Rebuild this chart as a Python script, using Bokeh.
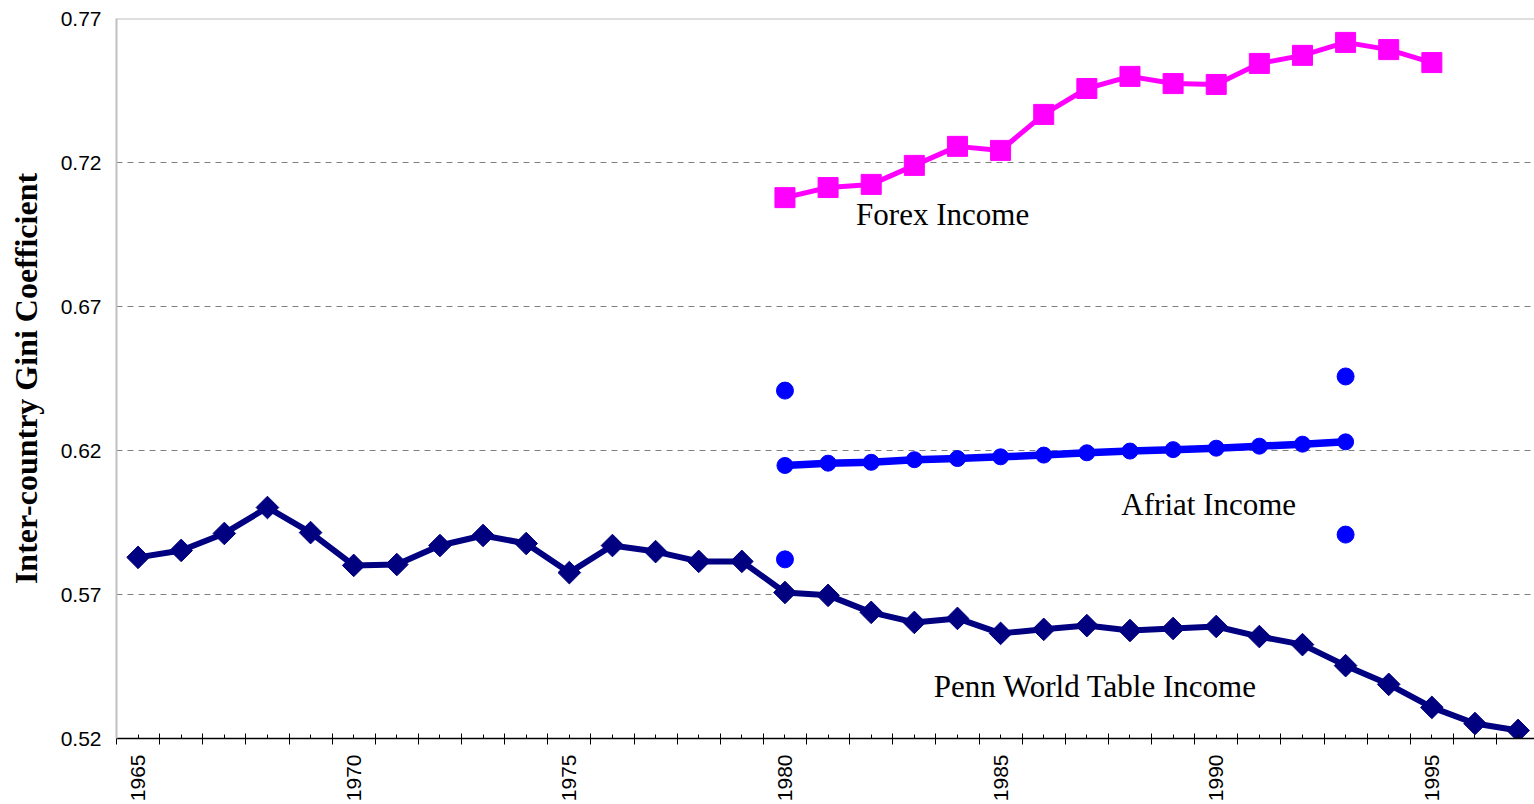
from math import pi
from bokeh.plotting import figure
from bokeh.models import FixedTicker, Span, Range1d, Label, PrintfTickFormatter
from bokeh.embed import file_html
from bokeh.resources import INLINE

# ---------------- data ----------------
years_penn = list(range(1965, 1998))
penn = [0.5829, 0.5853, 0.5912, 0.6002, 0.5915, 0.5801, 0.5804, 0.5870, 0.5905,
        0.5877, 0.5776, 0.5870, 0.5849, 0.5815, 0.5815, 0.5707, 0.5697, 0.5638,
        0.5603, 0.5617, 0.5565, 0.5579, 0.5592, 0.5575, 0.5582, 0.5589, 0.5554,
        0.5526, 0.5453, 0.5388, 0.5308, 0.5252, 0.5228]

years_forex = list(range(1980, 1996))
forex = [0.7078, 0.7113, 0.7124, 0.7190, 0.7256, 0.7242, 0.7367, 0.7457, 0.7499,
         0.7474, 0.7471, 0.7544, 0.7572, 0.7617, 0.7592, 0.7547]

years_afriat = list(range(1980, 1994))
afriat = [0.6148, 0.6156, 0.6159, 0.6168, 0.6172, 0.6178, 0.6184, 0.6192, 0.6198,
          0.6203, 0.6208, 0.6215, 0.6222, 0.6230]

afriat_bound_years = [1980, 1980, 1993, 1993]
afriat_bounds = [0.6408, 0.5822, 0.6457, 0.5908]

y_ticks = [0.52, 0.57, 0.62, 0.67, 0.72, 0.77]
grid_ticks = [0.57, 0.62, 0.67, 0.72]
x_label_years = [1965, 1970, 1975, 1980, 1985, 1990, 1995]

series_labels = ["Forex Income", "Afriat Income", "Penn World Table Income"]

# ---------------- figure ----------------
p = figure(width=1534, height=804,
           x_range=Range1d(1964.5, 1997.38), y_range=Range1d(0.52, 0.77),
           output_backend="svg", toolbar_location=None,
           min_border_left=116, min_border_right=0,
           min_border_top=18, min_border_bottom=66)
p.outline_line_color = None
p.background_fill_color = "white"
p.border_fill_color = "white"

p.xgrid.visible = False
p.ygrid.ticker = FixedTicker(ticks=grid_ticks)
p.ygrid.grid_line_color = "#808080"
p.ygrid.grid_line_dash = "6 5"
p.ygrid.grid_line_width = 1

# y axis
ya = p.yaxis[0]
ya.ticker = FixedTicker(ticks=y_ticks)
ya.formatter = PrintfTickFormatter(format="%.2f")
ya.axis_line_color = "#c0c0c0"
ya.axis_line_width = 2
ya.major_tick_line_color = None
ya.minor_tick_line_color = None
ya.major_tick_in = 0
ya.major_tick_out = 0
ya.major_label_standoff = 15
ya.major_label_text_font = "Liberation Sans"
ya.major_label_text_font_size = "21px"
ya.major_label_text_color = "black"
ya.axis_label = "Inter-country Gini Coefficient"
ya.axis_label_text_font = "Liberation Serif"
ya.axis_label_text_font_style = "bold"
ya.axis_label_text_font_size = "32px"
ya.axis_label_text_color = "black"
ya.axis_label_standoff = 14

# x axis
xa = p.xaxis[0]
xa.ticker = FixedTicker(ticks=years_penn,
                        minor_ticks=[y - 0.5 for y in years_penn] + [years_penn[-1] + 0.5])
xa.major_label_overrides = {y: (str(y) if y in x_label_years else "") for y in years_penn}
xa.major_label_orientation = pi / 2
xa.axis_line_color = "black"
xa.axis_line_width = 1.5
xa.major_tick_line_color = "black"
xa.minor_tick_line_color = "black"
xa.major_tick_in = 4
xa.major_tick_out = 0
xa.minor_tick_in = 5
xa.minor_tick_out = 6
xa.major_label_standoff = 10
xa.major_label_text_font = "Liberation Sans"
xa.major_label_text_font_size = "21px"
xa.major_label_text_color = "black"

p.add_layout(Span(location=0.77, dimension="width", line_color="#c0c0c0", line_width=2))

# ---------------- series ----------------
navy = "#000080"
magenta = "#FF00FF"
blue = "#0000FF"

p.line(years_penn, penn, line_color=navy, line_width=6)
p.scatter(years_penn, penn, marker="square", angle=pi / 4, size=16,
          fill_color=navy, line_color=navy)

p.line(years_forex, forex, line_color=magenta, line_width=5)
p.scatter(years_forex, forex, marker="square", size=20,
          fill_color=magenta, line_color=magenta)

p.line(years_afriat, afriat, line_color=blue, line_width=7.5)
p.scatter(years_afriat, afriat, marker="circle", size=16,
          fill_color=blue, line_color=blue)

p.scatter(afriat_bound_years, afriat_bounds, marker="circle", size=17,
          fill_color=blue, line_color=blue)

# ---------------- labels ----------------
label_pos = [(1981.65, 0.7019), (1987.8, 0.6013), (1983.45, 0.5380)]
for txt, (lx, ly) in zip(series_labels, label_pos):
    p.add_layout(Label(x=lx, y=ly, text=txt, text_font="Liberation Serif",
                       text_font_size="31px", text_color="black",
                       text_align="left", text_baseline="middle"))

open("out.html", "w").write(file_html(p, INLINE))
